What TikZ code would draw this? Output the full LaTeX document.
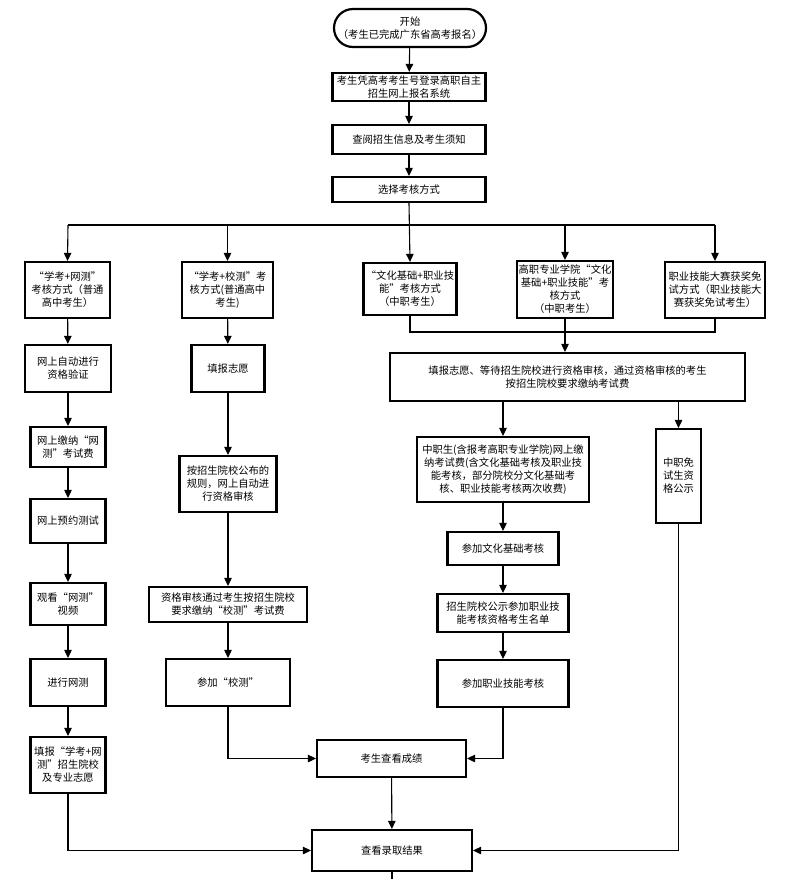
\documentclass[tikz,border=0pt]{standalone}
\usepackage{fontspec}
\newfontfamily\cjk{Noto Sans CJK SC}
\usetikzlibrary{arrows.meta}
\tikzset{
  >={Triangle[length=8pt,width=7.5pt]},
  box/.style={rectangle,draw=black,line width=2.2pt,fill=white,align=center,inner sep=1.5pt,
    font=\cjk\fontsize{10.3}{13}\selectfont},
  startbox/.style={box,rounded corners=19pt},
  flow/.style={->,line width=1.1pt,draw=black},
  link/.style={line width=1.1pt,draw=black}
}
\begin{document}
\begin{tikzpicture}[x=1pt,y={(0pt,-1pt)}]
  \useasboundingbox (0,0) rectangle (790,879);
  % main column
  \node[startbox,minimum width=152pt,minimum height=38pt] (start) at (410,28) {开始\\（考生已完成广东省高考报名）};
  \node[box,minimum width=153pt,minimum height=28pt] (login) at (409,87) {考生凭高考考生号登录高职自主\\招生网上报名系统};
  \node[box,minimum width=153pt,minimum height=29pt] (info) at (409,139.5) {查阅招生信息及考生须知};
  \node[box,minimum width=153pt,minimum height=25pt] (choose) at (409,189.5) {选择考核方式};
  % five ways
  \node[box,minimum width=85pt,minimum height=56pt] (wayA) at (67.5,290) {“学考+网测”\\考核方式（普通\\高中考生）};
  \node[box,minimum width=91pt,minimum height=56pt] (wayB) at (227.5,290) {“学考+校测”考\\核方式(普通高中\\考生)};
  \node[box,minimum width=93pt,minimum height=52pt] (wayC) at (410,289) {“文化基础+职业技\\能”考核方式\\（中职考生）};
  \node[box,minimum width=96pt,minimum height=57pt] (wayD) at (565,289.5) {高职专业学院“文化\\基础+职业技能”考\\核方式\\（中职考生）};
  \node[box,minimum width=100pt,minimum height=56pt] (wayE) at (715,290) {职业技能大赛获奖免\\试方式（职业技能大\\赛获奖免试考生）};
  % left column
  \node[box,minimum width=86pt,minimum height=47pt] (a2) at (68,368.5) {网上自动进行\\资格验证};
  \node[box,minimum width=75pt,minimum height=40pt] (a3) at (68,447) {网上缴纳“网\\测”考试费};
  \node[box,minimum width=75pt,minimum height=44pt] (a4) at (68,521) {网上预约测试};
  \node[box,minimum width=75pt,minimum height=42pt] (a5) at (68,604) {观看“网测”\\视频};
  \node[box,minimum width=75pt,minimum height=47pt] (a6) at (68,682.5) {进行网测};
  \node[box,minimum width=75pt,minimum height=56pt] (a7) at (68,765) {填报“学考+网\\测”招生院校\\及专业志愿};
  % second column
  \node[box,minimum width=73pt,minimum height=47pt] (b2) at (228,368.5) {填报志愿};
  \node[box,minimum width=97pt,minimum height=56pt] (b3) at (228,484) {按招生院校公布的\\规则，网上自动进\\行资格审核};
  \node[box,minimum width=158pt,minimum height=35pt] (b4) at (228,604.5) {资格审核通过考生按招生院校\\要求缴纳“校测”考试费};
  \node[box,minimum width=124pt,minimum height=47pt] (b5) at (228,682.5) {参加“校测”};
  % right part
  \node[box,minimum width=355pt,minimum height=48pt] (apply) at (567.5,377) {填报志愿、等待招生院校进行资格审核，通过资格审核的考生\\按招生院校要求缴纳考试费};
  \node[box,minimum width=172pt,minimum height=65pt] (fee) at (503,469.5) {中职生(含报考高职专业学院)网上缴\\纳考试费(含文化基础考核及职业技\\能考核，部分院校分文化基础考\\核、职业技能考核两次收费)};
  \node[box,minimum width=45pt,minimum height=94pt] (exempt) at (678.5,476) {中职免\\试生资\\格公示};
  \node[box,minimum width=111pt,minimum height=33pt] (basic) at (503,548.5) {参加文化基础考核};
  \node[box,minimum width=131pt,minimum height=38pt] (list) at (503,613) {招生院校公示参加职业技\\能考核资格考生名单};
  \node[box,minimum width=131pt,minimum height=47pt] (skill) at (503,683.5) {参加职业技能考核};
  % bottom
  \node[box,minimum width=149pt,minimum height=37pt] (score) at (391.5,758.5) {考生查看成绩};
  \node[box,minimum width=160pt,minimum height=41pt] (result) at (392,850.5) {查看录取结果};
  \coordinate (busL) at (68,225);
  \coordinate (busR) at (715,225);
  \coordinate (merge) at (410,332);
  \coordinate (tail) at (392,879);

  \draw[flow] (start)--(login);
  \draw[flow] (login)--(info);
  \draw[flow] (info)--(choose);
  \draw[flow] (choose.south)--(wayC.north);
  \draw[link] (busL)--(busR);
  \draw[flow] (busL)--(wayA.north);
  \draw[flow] (wayB.north|-busL)--(wayB.north);
  \draw[flow] (wayD.north|-busL)--(wayD.north);
  \draw[flow] (busR)--(wayE.north);
  \draw[link] (wayC.south)--(merge)--(merge-|wayE.south)--(wayE.south);
  \draw[flow] (wayD.south)--(wayD.south|-apply.north);
  \draw[flow] (fee.north|-apply.south)--(fee.north);
  \draw[flow] (exempt.north|-apply.south)--(exempt.north);
  \draw[flow] (fee)--(basic);
  \draw[flow] (basic)--(list);
  \draw[flow] (list)--(skill);
  \draw[flow] (skill.south)--(skill.south|-score.east)--(score.east);
  \draw[flow] (exempt.south)--(exempt.south|-result.east)--(result.east);
  \draw[flow] (wayA)--(a2);
  \draw[flow] (a2)--(a3);
  \draw[flow] (a3)--(a4);
  \draw[flow] (a4)--(a5);
  \draw[flow] (a5)--(a6);
  \draw[flow] (a6)--(a7);
  \draw[flow] (a7.south)--(a7.south|-result.west)--(result.west);
  \draw[flow] (wayB)--(b2);
  \draw[flow] (b2)--(b3);
  \draw[flow] (b3)--(b4);
  \draw[flow] (b4)--(b5);
  \draw[flow] (b5.south)--(b5.south|-score.west)--(score.west);
  \draw[flow] (score)--(result);
  \draw[link] (result.south)--(tail);
\end{tikzpicture}
\end{document}
